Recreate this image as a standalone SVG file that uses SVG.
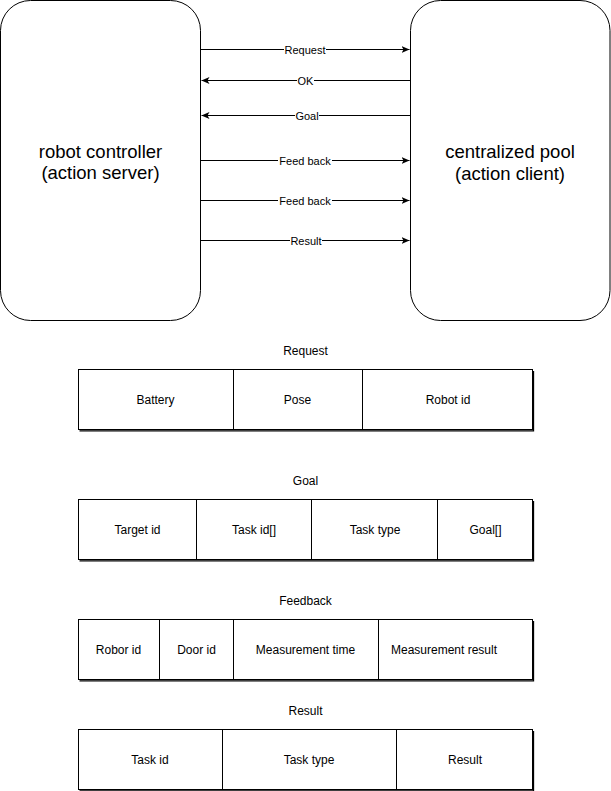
<svg xmlns="http://www.w3.org/2000/svg" width="611" height="791" viewBox="0 0 611 791">
<style>
.box{fill:#fff;stroke:#000;stroke-width:1}
.big{font-family:"Liberation Sans",Arial,sans-serif;font-size:18.5px;fill:#000;text-anchor:middle}
.lbl{font-family:"Liberation Sans",Arial,sans-serif;font-size:11px;fill:#000;text-anchor:middle}
.t{font-family:"Liberation Sans",Arial,sans-serif;font-size:12px;fill:#000;text-anchor:middle}
.edge{stroke:#000;stroke-width:1;fill:none}
.bg{fill:#fff}
.tbl{fill:#fff;stroke:#000;stroke-width:1}
.sh{stroke:#000;stroke-width:1.3;fill:none}
.div{stroke:#000;stroke-width:1}
</style>
<defs>
<marker id="ah" viewBox="0 0 8 8" refX="8" refY="4" markerWidth="8" markerHeight="8" markerUnits="userSpaceOnUse" orient="auto">
<path d="M0,0.5 L8,4 L0,7.5 L2,4 Z" fill="#000"/>
</marker>
</defs>
<g id="server">
<rect class="box" x="0.5" y="0.5" width="200" height="320" rx="30" ry="30"/>
<text class="big" x="100.5" y="157.5">robot controller</text>
<text class="big" x="100.5" y="179">(action server)</text>
</g>
<g id="client">
<rect class="box" x="410.5" y="0.5" width="199.5" height="320" rx="30" ry="30"/>
<text class="big" x="510" y="158">centralized pool</text>
<text class="big" x="510" y="179.5">(action client)</text>
</g>
<g id="connectors">
<line class="edge" x1="201" y1="49.5" x2="409.5" y2="49.5" marker-end="url(#ah)"/>
<rect class="bg" x="284" y="43" width="42" height="13"/>
<text class="lbl" x="305" y="53.5">Request</text>
<line class="edge" x1="410" y1="80.5" x2="201.5" y2="80.5" marker-end="url(#ah)"/>
<rect class="bg" x="297" y="74" width="17" height="13"/>
<text class="lbl" x="305.5" y="84.5">OK</text>
<line class="edge" x1="410" y1="115.5" x2="201.5" y2="115.5" marker-end="url(#ah)"/>
<rect class="bg" x="295" y="109" width="24" height="13"/>
<text class="lbl" x="307" y="119.5">Goal</text>
<line class="edge" x1="201" y1="160.5" x2="409.5" y2="160.5" marker-end="url(#ah)"/>
<rect class="bg" x="278" y="154" width="54" height="13"/>
<text class="lbl" x="305" y="164.5">Feed back</text>
<line class="edge" x1="201" y1="200.5" x2="409.5" y2="200.5" marker-end="url(#ah)"/>
<rect class="bg" x="278" y="194" width="54" height="13"/>
<text class="lbl" x="305" y="204.5">Feed back</text>
<line class="edge" x1="201" y1="240.5" x2="409.5" y2="240.5" marker-end="url(#ah)"/>
<rect class="bg" x="290" y="234" width="32" height="13"/>
<text class="lbl" x="306" y="244.5">Result</text>
</g>
<g id="request-table">
<text class="t" x="305.5" y="355">Request</text>
<rect class="tbl" x="78.5" y="369.5" width="454" height="60"/>
<path class="sh" d="M533.5,371 V430.8 H79.5"/>
<line class="div" x1="233.5" y1="370" x2="233.5" y2="430"/>
<line class="div" x1="362.5" y1="370" x2="362.5" y2="430"/>
<text class="t" x="155.5" y="404">Battery</text>
<text class="t" x="297.5" y="404">Pose</text>
<text class="t" x="448" y="404">Robot id</text>
</g>
<g id="goal-table">
<text class="t" x="305.5" y="485">Goal</text>
<rect class="tbl" x="78.5" y="499.5" width="454" height="60"/>
<path class="sh" d="M533.5,501 V560.8 H79.5"/>
<line class="div" x1="196.5" y1="500" x2="196.5" y2="560"/>
<line class="div" x1="311.5" y1="500" x2="311.5" y2="560"/>
<line class="div" x1="437.5" y1="500" x2="437.5" y2="560"/>
<text class="t" x="137.5" y="534">Target id</text>
<text class="t" x="254" y="534">Task id[]</text>
<text class="t" x="375" y="534">Task type</text>
<text class="t" x="485.5" y="534">Goal[]</text>
</g>
<g id="feedback-table">
<text class="t" x="305.5" y="605">Feedback</text>
<rect class="tbl" x="78.5" y="619.5" width="454" height="60"/>
<path class="sh" d="M533.5,621 V680.8 H79.5"/>
<line class="div" x1="159.5" y1="620" x2="159.5" y2="680"/>
<line class="div" x1="233.5" y1="620" x2="233.5" y2="680"/>
<line class="div" x1="378.5" y1="620" x2="378.5" y2="680"/>
<text class="t" x="118.5" y="654">Robor id</text>
<text class="t" x="196.5" y="654">Door id</text>
<text class="t" x="305.5" y="654">Measurement time</text>
<text class="t" x="444" y="654">Measurement result</text>
</g>
<g id="result-table">
<text class="t" x="305.5" y="715">Result</text>
<rect class="tbl" x="78.5" y="729.5" width="454" height="60"/>
<path class="sh" d="M533.5,731 V790.8 H79.5"/>
<line class="div" x1="222.5" y1="730" x2="222.5" y2="790"/>
<line class="div" x1="396.5" y1="730" x2="396.5" y2="790"/>
<text class="t" x="150" y="764">Task id</text>
<text class="t" x="309" y="764">Task type</text>
<text class="t" x="465" y="764">Result</text>
</g>
</svg>
